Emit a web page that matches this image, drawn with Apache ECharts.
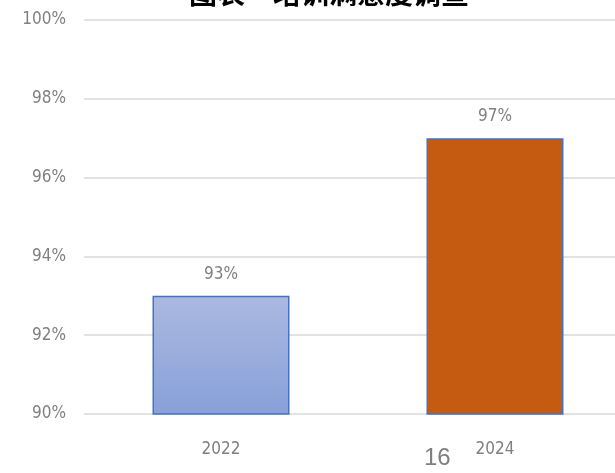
<!DOCTYPE html>
<html><head><meta charset="utf-8">
<script src="https://cdn.jsdelivr.net/npm/echarts@6/dist/echarts.min.js"></script>
<style>html,body{margin:0;padding:0;background:#fff;}#c{width:615px;height:473px;}</style>
</head><body><div id="c"></div>
<script>
var titleText = '图表一培训满意度调查';
var categories = ['2022', '2024'];
var values = [93, 97];
var yTicks = [90, 92, 94, 96, 98, 100];
var pageNote = '16';

var font = "'Liberation Sans Narrow','DejaVu Sans Condensed','Open Sans',sans-serif";
var chart = echarts.init(document.getElementById('c'));
chart.setOption({
  animation: false,
  backgroundColor: '#ffffff',
  title: {
    text: titleText, left: 184, top: -26,
    textStyle: {fontSize: 28, fontWeight: 'bold', color: '#000', fontFamily: "'Noto Sans CJK SC',sans-serif"}
  },
  grid: {left: 84, width: 548, top: 20, bottom: 59, containLabel: false, outerBoundsMode: 'none'},
  xAxis: {
    type: 'category', data: categories,
    axisLine: {show: false}, axisTick: {show: false},
    axisLabel: {fontSize: 17, color: '#808080', fontFamily: font, margin: 27}
  },
  yAxis: {
    type: 'value', min: yTicks[0], max: yTicks[yTicks.length - 1], interval: 2,
    axisLine: {show: false}, axisTick: {show: false},
    splitLine: {lineStyle: {color: '#d9d9d9', width: 1.5}},
    axisLabel: {fontSize: 17, color: '#808080', fontFamily: font, margin: 18,
      formatter: function (v) { return v + '%'; }}
  },
  series: [{
    type: 'bar', barWidth: '50%',
    data: values.map(function (v, i) {
      return {
        value: v,
        itemStyle: i === 0 ? {
          color: new echarts.graphic.LinearGradient(0, 0, 0, 1, [
            {offset: 0, color: '#abb9e1'}, {offset: 1, color: '#88a0d8'}]),
          borderColor: '#4472c4', borderWidth: 1.5
        } : {
          color: '#c55a11', borderColor: '#4472c4', borderWidth: 1.5
        }
      };
    }),
    label: {show: true, position: 'top', distance: 13, fontSize: 17, color: '#808080', fontFamily: font,
      formatter: function (p) { return p.value + '%'; }}
  }],
  graphic: [{
    type: 'text', left: 424, top: 446,
    style: {text: pageNote, fontSize: 24, fill: '#7f7f7f', fontFamily: "'Liberation Sans','Open Sans',sans-serif"}
  }]
});
</script></body></html>
